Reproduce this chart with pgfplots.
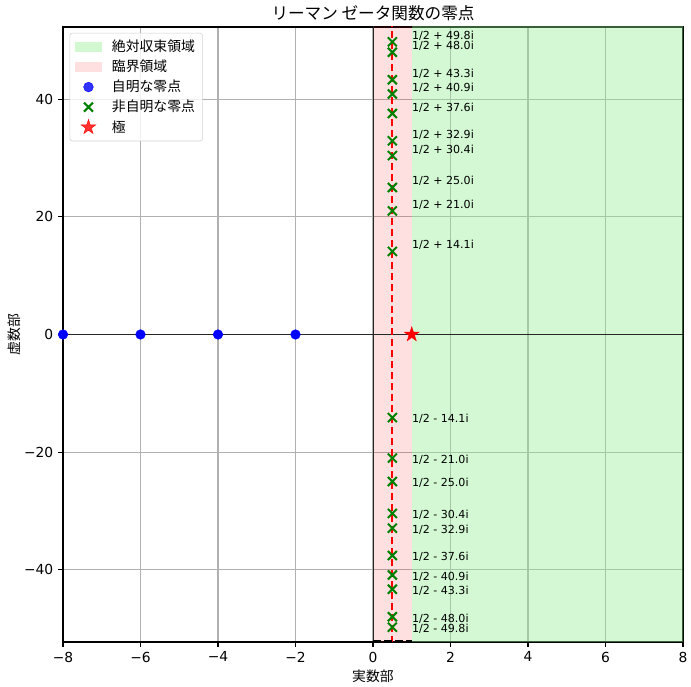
\documentclass[border=0pt]{standalone}
\usepackage{fontspec}
\setmainfont{DejaVu Sans}
\newfontfamily\cjk{Noto Sans CJK JP}
\usepackage{pgfplots}
\pgfplotsset{compat=1.18}
\definecolor{lgreen}{RGB}{144,238,144}
\definecolor{mplgreen}{RGB}{0,128,0}
\definecolor{gridc}{RGB}{176,176,176}
\pgfdeclareplotmark{fstar}{%
  \pgfpathmoveto{\pgfqpointpolar{90}{\pgfplotmarksize}}%
  \pgfpathlineto{\pgfqpointpolar{126}{0.382\pgfplotmarksize}}%
  \pgfpathlineto{\pgfqpointpolar{162}{\pgfplotmarksize}}%
  \pgfpathlineto{\pgfqpointpolar{198}{0.382\pgfplotmarksize}}%
  \pgfpathlineto{\pgfqpointpolar{234}{\pgfplotmarksize}}%
  \pgfpathlineto{\pgfqpointpolar{270}{0.382\pgfplotmarksize}}%
  \pgfpathlineto{\pgfqpointpolar{306}{\pgfplotmarksize}}%
  \pgfpathlineto{\pgfqpointpolar{342}{0.382\pgfplotmarksize}}%
  \pgfpathlineto{\pgfqpointpolar{18}{\pgfplotmarksize}}%
  \pgfpathlineto{\pgfqpointpolar{54}{0.382\pgfplotmarksize}}%
  \pgfpathclose
  \pgfusepathqfillstroke}
\pgfplotsset{
  patchleg/.style={legend image code/.code={\fill[##1, sharp corners] (0pt,-3.5pt) rectangle (20pt,3.5pt); \path[draw=none, fill=none] (0pt,0pt) -- (25pt,0pt);}},
  markleg/.style={legend image code/.code={\draw[##1, sharp corners] plot coordinates {(10pt,0pt)}; \path[draw=none, fill=none] (0pt,0pt) -- (25pt,0pt);}},
}
\tikzset{
  pl/.style={anchor=base west, inner sep=0pt, yshift=1.8pt, font=\fontsize{8}{9}\selectfont},
  nl/.style={anchor=base west, inner sep=0pt, yshift=-3.8pt, font=\fontsize{8}{9}\selectfont},
}
\begin{document}
\begin{tikzpicture}
\begin{axis}[
  scale only axis, width=6.2in, height=6.15in,
  xmin=-8, xmax=8, ymin=-52.3, ymax=52.3,
  xtick={-8,-6,...,8}, xticklabels={−8,−6,−4,−2,0,2,4,6,8},
  ytick={-40,-20,0,20,40}, yticklabels={−40,−20,0,20,40},
  tick align=outside, tick pos=left, major tick length=3.5pt,
  major tick style={line width=0.8pt, black},
  grid=major, grid style={gridc, line width=0.8pt},
  axis line style={line width=0.8pt},
  ticklabel style={font=\fontsize{10}{12}\selectfont},
  title={\cjk リーマン ゼータ関数の零点},
  every axis title shift=0pt,
  title style={font=\fontsize{12}{14}\selectfont, at={(axis description cs:0.5,1.0228)}, anchor=center, yshift=0pt},
  xlabel={\cjk 実数部},
  xlabel style={font=\fontsize{10}{12}\selectfont, at={(axis description cs:0.5,-0.0553)}, anchor=center},
  ylabel={\cjk 虚数部},
  ylabel style={font=\fontsize{10}{12}\selectfont, at={(axis description cs:-0.079,0.5)}, anchor=center},
  legend cell align=left,
  legend style={at={(rel axis cs:0.0105,0.9905)}, anchor=north west,
    font=\cjk\fontsize{10}{12}\selectfont, draw=gray!35, rounded corners=2pt,
    fill=white, fill opacity=0.8, text opacity=1, draw opacity=1,
    row sep=0.6pt, inner xsep=3.5pt, inner ysep=3pt},
  clip=true,
]
\addplot[patchleg, fill=lgreen, fill opacity=0.4, draw=none] coordinates {(1,-60) (8.5,-60) (8.5,60) (1,60)} -- cycle;
\addlegendentry{絶対収束領域}
\addplot[patchleg, fill=red, fill opacity=0.12, draw=none] coordinates {(0,-60) (1,-60) (1,60) (0,60)} -- cycle;
\addlegendentry{臨界領域}
\addplot[forget plot, black!85, line width=0.7pt] coordinates {(-9,0) (9,0)};
\addplot[forget plot, black!85, line width=0.7pt] coordinates {(0,-60) (0,60)};
\addplot[forget plot, red, line width=1.5pt, dash pattern=on 5.55pt off 2.4pt] coordinates {(0.5,-60) (0.5,60)};
\addplot[forget plot, black, line width=1.5pt, dash pattern=on 5.55pt off 2.4pt] coordinates {(0,-52.1) (1,-52.1)};
\addplot[markleg, only marks, mark=*, mark size=3.5pt, blue, mark options={draw=blue, fill=blue, line width=0.3pt}] coordinates {(-2,0) (-4,0) (-6,0) (-8,0)};
\addlegendentry{自明な零点}
\addplot[markleg, only marks, mark=x, mark size=4.6pt, mplgreen, mark options={line width=1.5pt}] coordinates {
(0.5,14.1347) (0.5,21.0220) (0.5,25.0109) (0.5,30.4249) (0.5,32.9351)
(0.5,37.5862) (0.5,40.9187) (0.5,43.3271) (0.5,48.0052) (0.5,49.7738)
(0.5,-14.1347) (0.5,-21.0220) (0.5,-25.0109) (0.5,-30.4249) (0.5,-32.9351)
(0.5,-37.5862) (0.5,-40.9187) (0.5,-43.3271) (0.5,-48.0052) (0.5,-49.7738)};
\addlegendentry{非自明な零点}
\addplot[markleg, only marks, mark=fstar, mark size=5.6pt, red, mark options={fill=red, draw=red, line width=0.3pt}] coordinates {(1,0)};
\addlegendentry{極}
\node[pl] at (axis cs:1,14.1347) {1/2 + 14.1i};
\node[pl] at (axis cs:1,21.0220) {1/2 + 21.0i};
\node[pl] at (axis cs:1,25.0109) {1/2 + 25.0i};
\node[pl] at (axis cs:1,30.4249) {1/2 + 30.4i};
\node[pl] at (axis cs:1,32.9351) {1/2 + 32.9i};
\node[pl] at (axis cs:1,37.5862) {1/2 + 37.6i};
\node[pl] at (axis cs:1,40.9187) {1/2 + 40.9i};
\node[pl] at (axis cs:1,43.3271) {1/2 + 43.3i};
\node[pl] at (axis cs:1,48.0052) {1/2 + 48.0i};
\node[pl] at (axis cs:1,49.7738) {1/2 + 49.8i};
\node[nl] at (axis cs:1,-14.1347) {1/2 - 14.1i};
\node[nl] at (axis cs:1,-21.0220) {1/2 - 21.0i};
\node[nl] at (axis cs:1,-25.0109) {1/2 - 25.0i};
\node[nl] at (axis cs:1,-30.4249) {1/2 - 30.4i};
\node[nl] at (axis cs:1,-32.9351) {1/2 - 32.9i};
\node[nl] at (axis cs:1,-37.5862) {1/2 - 37.6i};
\node[nl] at (axis cs:1,-40.9187) {1/2 - 40.9i};
\node[nl] at (axis cs:1,-43.3271) {1/2 - 43.3i};
\node[nl] at (axis cs:1,-48.0052) {1/2 - 48.0i};
\node[nl] at (axis cs:1,-49.7738) {1/2 - 49.8i};
\end{axis}
\pgfresetboundingbox
\useasboundingbox (current axis.south west) ++(-0.63in,-0.45in) rectangle ++(6.91in,6.87in);
\end{tikzpicture}
\end{document}
